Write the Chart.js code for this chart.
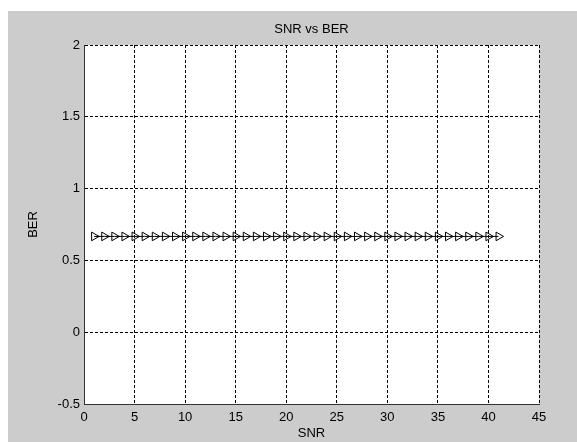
<!DOCTYPE html>
<html>
<head>
<meta charset="utf-8">
<script src="https://cdn.jsdelivr.net/npm/chart.js@4/dist/chart.umd.min.js"></script>
<style>
  html, body { margin: 0; padding: 0; background: #fff; }
  #wrap { width: 577px; height: 442px; }
</style>
</head>
<body>
<div id="wrap"><canvas id="myChart"></canvas></div>
<script>
// SNR values (x) and measured BER (y)
var snr = [1, 2, 3, 4, 5, 6, 7, 8, 9, 10, 11, 12, 13, 14, 15, 16, 17, 18, 19, 20,
           21, 22, 23, 24, 25, 26, 27, 28, 29, 30, 31, 32, 33, 34, 35, 36, 37, 38, 39, 40, 41];
var ber = [0.667, 0.667, 0.667, 0.667, 0.667, 0.667, 0.667, 0.667, 0.667, 0.667,
           0.667, 0.667, 0.667, 0.667, 0.667, 0.667, 0.667, 0.667, 0.667, 0.667,
           0.667, 0.667, 0.667, 0.667, 0.667, 0.667, 0.667, 0.667, 0.667, 0.667,
           0.667, 0.667, 0.667, 0.667, 0.667, 0.667, 0.667, 0.667, 0.667, 0.667, 0.667];
var xTicks = [0, 5, 10, 15, 20, 25, 30, 35, 40, 45];
var yTicks = [-0.5, 0, 0.5, 1, 1.5, 2];

var points = snr.map(function(s, i) {
    return {x: s, y: ber[i]};
});

// grey figure background + white axes box (matlab look)
const figureBg = {
    id: 'figureBg',
    beforeDraw: function(chart) {
        const c = chart.ctx;
        const a = chart.chartArea;
        c.save();
        c.fillStyle = '#ffffff';
        c.fillRect(0, 0, chart.width, chart.height);
        c.fillStyle = '#cccccc';
        c.fillRect(8, 11, chart.width - 8, chart.height - 11);
        c.fillStyle = '#ffffff';
        c.fillRect(a.left, a.top, a.right - a.left, a.bottom - a.top);
        c.restore();
    }
};

Chart.defaults.font.family = '"Liberation Sans", Arial, sans-serif';
Chart.defaults.font.size = 13;
Chart.defaults.color = '#000000';

const ctx = document.getElementById('myChart').getContext('2d');
const myChart = new Chart(ctx, {
    type: 'line',
    data: {
        datasets: [
            {
                label: 'BER',
                data: points,
                borderColor: '#000000',
                borderWidth: 1,
                pointStyle: 'triangle',
                pointRotation: 90,
                pointRadius: 5,
                pointBorderWidth: 1,
                pointBorderColor: '#000000',
                pointBackgroundColor: 'rgba(0,0,0,0)',
                tension: 0
            }
        ]
    },
    options: {
        responsive: true,
        maintainAspectRatio: false,
        animation: false,
        layout: {
            padding: {left: 0, right: 38, top: 0, bottom: 0}
        },
        plugins: {
            legend: {display: false},
            tooltip: {enabled: false},
            title: {
                display: true,
                text: 'SNR vs BER',
                fullSize: false,
                color: '#000000',
                font: {size: 13, weight: 'normal'},
                padding: {top: 22, bottom: 7.4}
            }
        },
        scales: {
            x: {
                type: 'linear',
                min: 0,
                max: 45,
                afterFit: function(scale) { scale.height = 38; },
                afterBuildTicks: function(scale) {
                    scale.ticks = xTicks.map(function(v) { return {value: v}; });
                },
                ticks: {
                    padding: 6,
                    maxRotation: 0,
                    autoSkip: false,
                    color: '#000000',
                    callback: function(v) { return String(v); }
                },
                grid: {
                    color: '#000000',
                    lineWidth: 1,
                    drawTicks: false
                },
                border: {
                    display: true,
                    color: '#333333',
                    width: 1,
                    dash: [3, 2]
                },
                title: {
                    display: true,
                    text: 'SNR',
                    color: '#000000',
                    font: {size: 13},
                    padding: {top: 0, bottom: 1}
                }
            },
            y: {
                type: 'linear',
                min: -0.5,
                max: 2,
                afterFit: function(scale) { scale.width = 84; },
                afterBuildTicks: function(scale) {
                    scale.ticks = yTicks.map(function(v) { return {value: v}; });
                },
                ticks: {
                    padding: 4,
                    autoSkip: false,
                    color: '#000000',
                    callback: function(v) { return String(v); }
                },
                grid: {
                    color: '#000000',
                    lineWidth: 1,
                    drawTicks: false
                },
                border: {
                    display: true,
                    color: '#333333',
                    width: 1,
                    dash: [3, 2]
                },
                title: {
                    display: true,
                    text: 'BER',
                    color: '#000000',
                    font: {size: 13},
                    padding: {top: 26, bottom: 0}
                }
            }
        }
    },
    plugins: [figureBg]
});
</script>
</body>
</html>
